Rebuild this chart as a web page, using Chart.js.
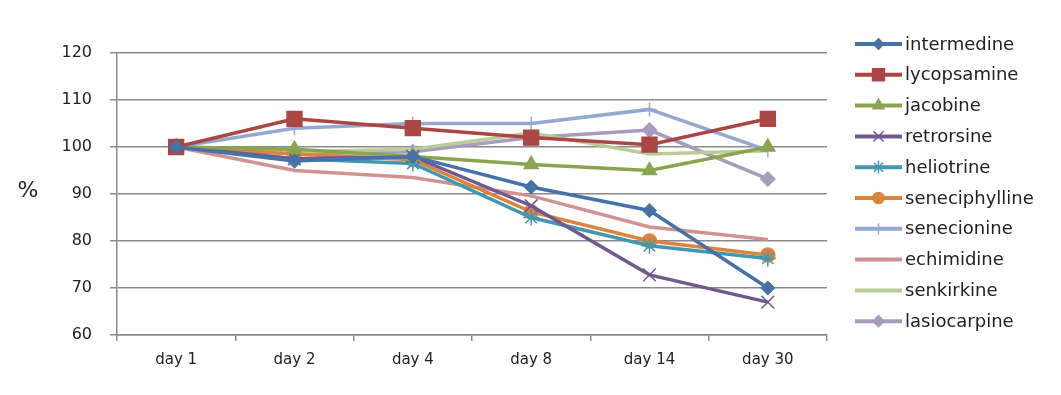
<!DOCTYPE html>
<html lang="en">
<head>
  <meta charset="UTF-8" />
  <title>Alkaloid stability</title>
  <script src="https://cdn.jsdelivr.net/npm/chart.js"></script>
  <style>
    html, body { margin: 0; padding: 0; background: #fff; }
    #wrap { width: 1061px; height: 395px; position: relative; }
  </style>
</head>
<body>
  <div id="wrap"><canvas id="chart"></canvas></div>

  <script>
    // categories and tick values
    const days = ["day 1", "day 2", "day 4", "day 8", "day 14", "day 30"];
    const yTicks = [60, 70, 80, 90, 100, 110, 120];

    // series values (% of day 1)
    const intermedine    = [100,  97.0,  98.0, 91.5, 86.5, 70.0];
    const lycopsamine    = [100, 106.0, 104.0, 102.0, 100.5, 106.0];
    const jacobine       = [100,  99.5,  98.0, 96.3, 95.0, 100.0];
    const retrorsine     = [100,  97.5,  98.0, 87.5, 72.8, 67.0];
    const heliotrine     = [100,  97.5,  96.5, 85.0, 79.0, 76.3];
    const seneciphylline = [100,  98.5,  97.3, 86.2, 80.0, 77.0];
    const senecionine    = [100, 104.0, 105.0, 105.0, 108.0, 99.3];
    const echimidine     = [100,  95.0,  93.5, 89.6, 83.0, 80.3];
    const senkirkine     = [100,  99.0,  99.5, 103.0, 98.5, 99.2];
    const lasiocarpine   = [100,  98.5,  99.0, 102.0, 103.6, 93.2];

    const series = [
      { label: "intermedine",    data: intermedine,    color: "#4572A7", style: "rectRot",  r: 6.5 },
      { label: "lycopsamine",    data: lycopsamine,    color: "#AA4643", style: "rect",     r: 10.5 },
      { label: "jacobine",       data: jacobine,       color: "#89A54E", style: "triangle", r: 8 },
      { label: "retrorsine",     data: retrorsine,     color: "#71588F", style: "crossRot", r: 9 },
      { label: "heliotrine",     data: heliotrine,     color: "#4198AF", style: "star",     r: 8 },
      { label: "seneciphylline", data: seneciphylline, color: "#DB843D", style: "circle",   r: 7 },
      { label: "senecionine",    data: senecionine,    color: "#93A9CF", style: "cross",    r: 7 },
      { label: "echimidine",     data: echimidine,     color: "#D19392", style: false,      r: 0 },
      { label: "senkirkine",     data: senkirkine,     color: "#B9CD96", style: false,      r: 0 },
      { label: "lasiocarpine",   data: lasiocarpine,   color: "#A99BBD", style: "rectRot",  r: 7 }
    ];

    // legend drawn by hand: line sample + marker, like the spreadsheet legend
    const sideLegend = {
      id: "sideLegend",
      afterDraw(chart) {
        const ctx = chart.ctx;
        ctx.save();
        // "%" axis label
        ctx.fillStyle = "#222";
        ctx.font = "22px 'DejaVu Sans'";
        ctx.textAlign = "center";
        ctx.textBaseline = "middle";
        ctx.fillText("%", 28, 191);

        ctx.font = "18px 'DejaVu Sans'";
        ctx.textAlign = "left";
        series.forEach((s, i) => {
          const y = 44 + i * 30.8;
          ctx.strokeStyle = s.color;
          ctx.lineWidth = 4;
          ctx.beginPath();
          ctx.moveTo(855, y);
          ctx.lineTo(902, y);
          ctx.stroke();
          if (s.style) {
            ctx.fillStyle = s.color;
            ctx.lineWidth = 1.5;
            Chart.helpers.drawPoint(ctx, { pointStyle: s.style, radius: s.r * 0.8, rotation: 0, borderWidth: 1.5 }, 878.5, y);
          }
          ctx.fillStyle = "#222";
          ctx.fillText(s.label, 905, y + 1);
        });
        ctx.restore();
      }
    };

    new Chart(document.getElementById("chart"), {
      type: "line",
      data: {
        labels: days,
        datasets: series.map(s => ({
          label: s.label,
          data: s.data,
          borderColor: s.color,
          backgroundColor: s.color,
          borderWidth: 3.5,
          pointStyle: s.style,
          pointRadius: s.r,
          pointBorderWidth: 1.5,
          pointBorderColor: s.color,
          pointBackgroundColor: s.color,
          tension: 0
        }))
      },
      options: {
        responsive: true,
        maintainAspectRatio: false,
        animation: false,
        devicePixelRatio: 1,
        layout: { padding: { top: 53, right: 234, bottom: 0, left: 0 } },
        plugins: {
          legend: { display: false },
          tooltip: { enabled: false }
        },
        scales: {
          x: {
            offset: true,
            grid: { offset: true, drawOnChartArea: false, color: "#8a8a8a", lineWidth: 1.5, tickLength: 6 },
            border: { color: "#8a8a8a", width: 1.5 },
            ticks: { color: "#222", font: { family: "DejaVu Sans", size: 15 }, padding: 10, maxRotation: 0 },
            afterFit(scale) { scale.height = 60; }
          },
          y: {
            min: 60,
            max: 120,
            afterBuildTicks(scale) { scale.ticks = yTicks.map(v => ({ value: v })); },
            grid: { color: "#8a8a8a", lineWidth: 1.5, tickLength: 7 },
            border: { color: "#8a8a8a", width: 1.5 },
            ticks: { color: "#222", font: { family: "DejaVu Sans", size: 16 }, padding: 18 },
            afterFit(scale) { scale.width = 117; }
          }
        }
      },
      plugins: [sideLegend]
    });
  </script>
</body>
</html>
